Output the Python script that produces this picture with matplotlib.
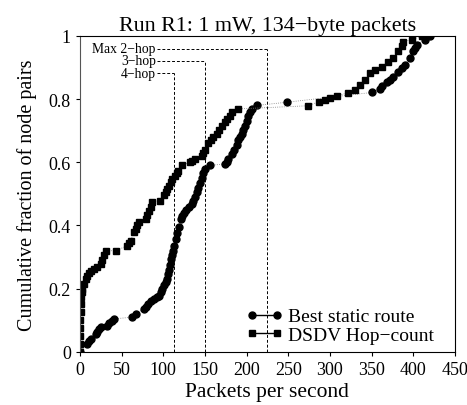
import numpy as np
import matplotlib
matplotlib.use("Agg")
import matplotlib.pyplot as plt
from matplotlib.lines import Line2D

# Best static route (circles)
static_x = [0, 9, 11, 13, 19, 21, 23, 25, 33, 35, 38, 41, 63, 67, 77, 79, 82, 85, 89, 92, 95,
            97, 99, 101, 103, 105, 106, 107, 108, 109, 111, 112, 113, 115, 117, 119, 121, 123,
            125, 127, 131, 134, 136, 138, 140, 142, 144, 146, 148, 150, 156, 174, 176, 178,
            182, 185, 188, 190, 192, 194, 196, 198, 200, 202, 204, 206, 212, 248, 350, 360,
            362, 368, 372, 376, 382, 386, 390, 396, 400, 402, 404, 414, 420]
static_y = [0, 0.025, 0.033, 0.04, 0.057, 0.064, 0.071, 0.079, 0.083, 0.09, 0.097, 0.104, 0.11,
            0.12, 0.136, 0.143, 0.15, 0.162, 0.168, 0.173, 0.178, 0.19, 0.2, 0.21, 0.22, 0.23,
            0.245, 0.26, 0.275, 0.294, 0.305, 0.32, 0.336, 0.357, 0.375, 0.395, 0.42, 0.43,
            0.44, 0.45, 0.46, 0.468, 0.479, 0.49, 0.505, 0.52, 0.535, 0.55, 0.565, 0.58, 0.59,
            0.595, 0.602, 0.61, 0.627, 0.64, 0.655, 0.669, 0.679, 0.69, 0.703, 0.716, 0.732,
            0.745, 0.758, 0.769, 0.78, 0.79, 0.821, 0.832, 0.843, 0.853, 0.862, 0.871, 0.887,
            0.898, 0.908, 0.929, 0.951, 0.962, 0.972, 0.988, 1.0]

# DSDV hop-count (squares)
dsdv_x = [0, 0, 0, 0.5, 0.5, 1, 1, 1, 2, 3, 5, 7, 9, 11, 13, 17, 21, 25, 27, 29, 31, 43, 57,
          59, 61, 65, 67, 69, 71, 79, 81, 83, 85, 87, 96, 101, 103, 105, 107, 109, 111, 114,
          116, 118, 122, 132, 135, 138, 146, 148, 150, 154, 157, 160, 164, 167, 170, 174, 177,
          180, 182, 190, 274, 287, 294, 300, 308, 322, 330, 336, 342, 348, 354, 362, 370, 376,
          382, 386, 388, 398, 410]
dsdv_y = [0, 0.025, 0.05, 0.075, 0.1, 0.125, 0.15, 0.175, 0.19, 0.2, 0.215, 0.23, 0.24, 0.25,
          0.257, 0.262, 0.27, 0.278, 0.29, 0.305, 0.32, 0.32, 0.336, 0.344, 0.352, 0.38, 0.39,
          0.4, 0.41, 0.42, 0.433, 0.446, 0.46, 0.475, 0.479, 0.495, 0.505, 0.515, 0.525, 0.537,
          0.547, 0.558, 0.566, 0.574, 0.59, 0.6, 0.605, 0.61, 0.62, 0.63, 0.64, 0.66, 0.67,
          0.68, 0.69, 0.703, 0.716, 0.727, 0.737, 0.748, 0.758, 0.769, 0.779, 0.792, 0.797,
          0.805, 0.81, 0.82, 0.829, 0.845, 0.862, 0.882, 0.892, 0.903, 0.919, 0.93, 0.951,
          0.967, 0.982, 0.988, 1.0]

# hop-count reference lines
hop_labels = ["Max 2\u2212hop", "3\u2212hop", "4\u2212hop"]
hop_x = [225, 150, 113]
hop_y = [0.959, 0.922, 0.882]

plt.rcParams["font.family"] = ["Liberation Serif", "DejaVu Serif"]

fig = plt.figure(figsize=(4.67, 4.06), dpi=100)
ax = fig.add_axes([0.171, 0.131, 0.803, 0.778])

ax.plot(static_x, static_y, color="gray", lw=0.6, ls=":", marker="o", ms=5,
        mfc="black", mec="black")
ax.plot(dsdv_x, dsdv_y, color="gray", lw=0.6, ls=":", marker="s", ms=4.5,
        mfc="black", mec="black")

for lab, hx, hy in zip(hop_labels, hop_x, hop_y):
    ax.plot([hx, hx], [0, hy], color="black", lw=0.7, ls=(0, (3, 2)))
    ax.plot([92, hx], [hy, hy], color="black", lw=0.7, ls=(0, (3, 2)))
    ax.text(91, hy, lab, ha="right", va="center", fontsize=9.8)

ax.set_xlim(0, 450)
ax.set_ylim(0, 1)
ax.set_xticks(np.arange(0, 451, 50))
ax.set_yticks([0, 0.2, 0.4, 0.6, 0.8, 1])
ax.set_yticklabels(["0", "0.2", "0.4", "0.6", "0.8", "1"])
ax.tick_params(labelsize=13, length=3, direction="out")
ax.spines["left"].set_color("#555555")
ax.set_xlabel("Packets per second", fontsize=15.5, labelpad=3)
ax.set_ylabel("Cumulative fraction of node pairs", fontsize=14.5, labelpad=8)
ax.set_title("Run R1: 1 mW, 134\u2212byte packets", fontsize=15.8, pad=4)

handles = [Line2D([], [], color="black", lw=1, marker="o", ms=5),
           Line2D([], [], color="black", lw=1, marker="s", ms=5)]
ax.legend(handles, ["Best static route", "DSDV Hop\u2212count"], loc="lower right",
          bbox_to_anchor=(0.965, 0.0), frameon=False, numpoints=2, handlelength=1.9,
          handletextpad=0.25, fontsize=14, labelspacing=0.05, borderaxespad=0.0)

fig.savefig("out.png", dpi=100)
